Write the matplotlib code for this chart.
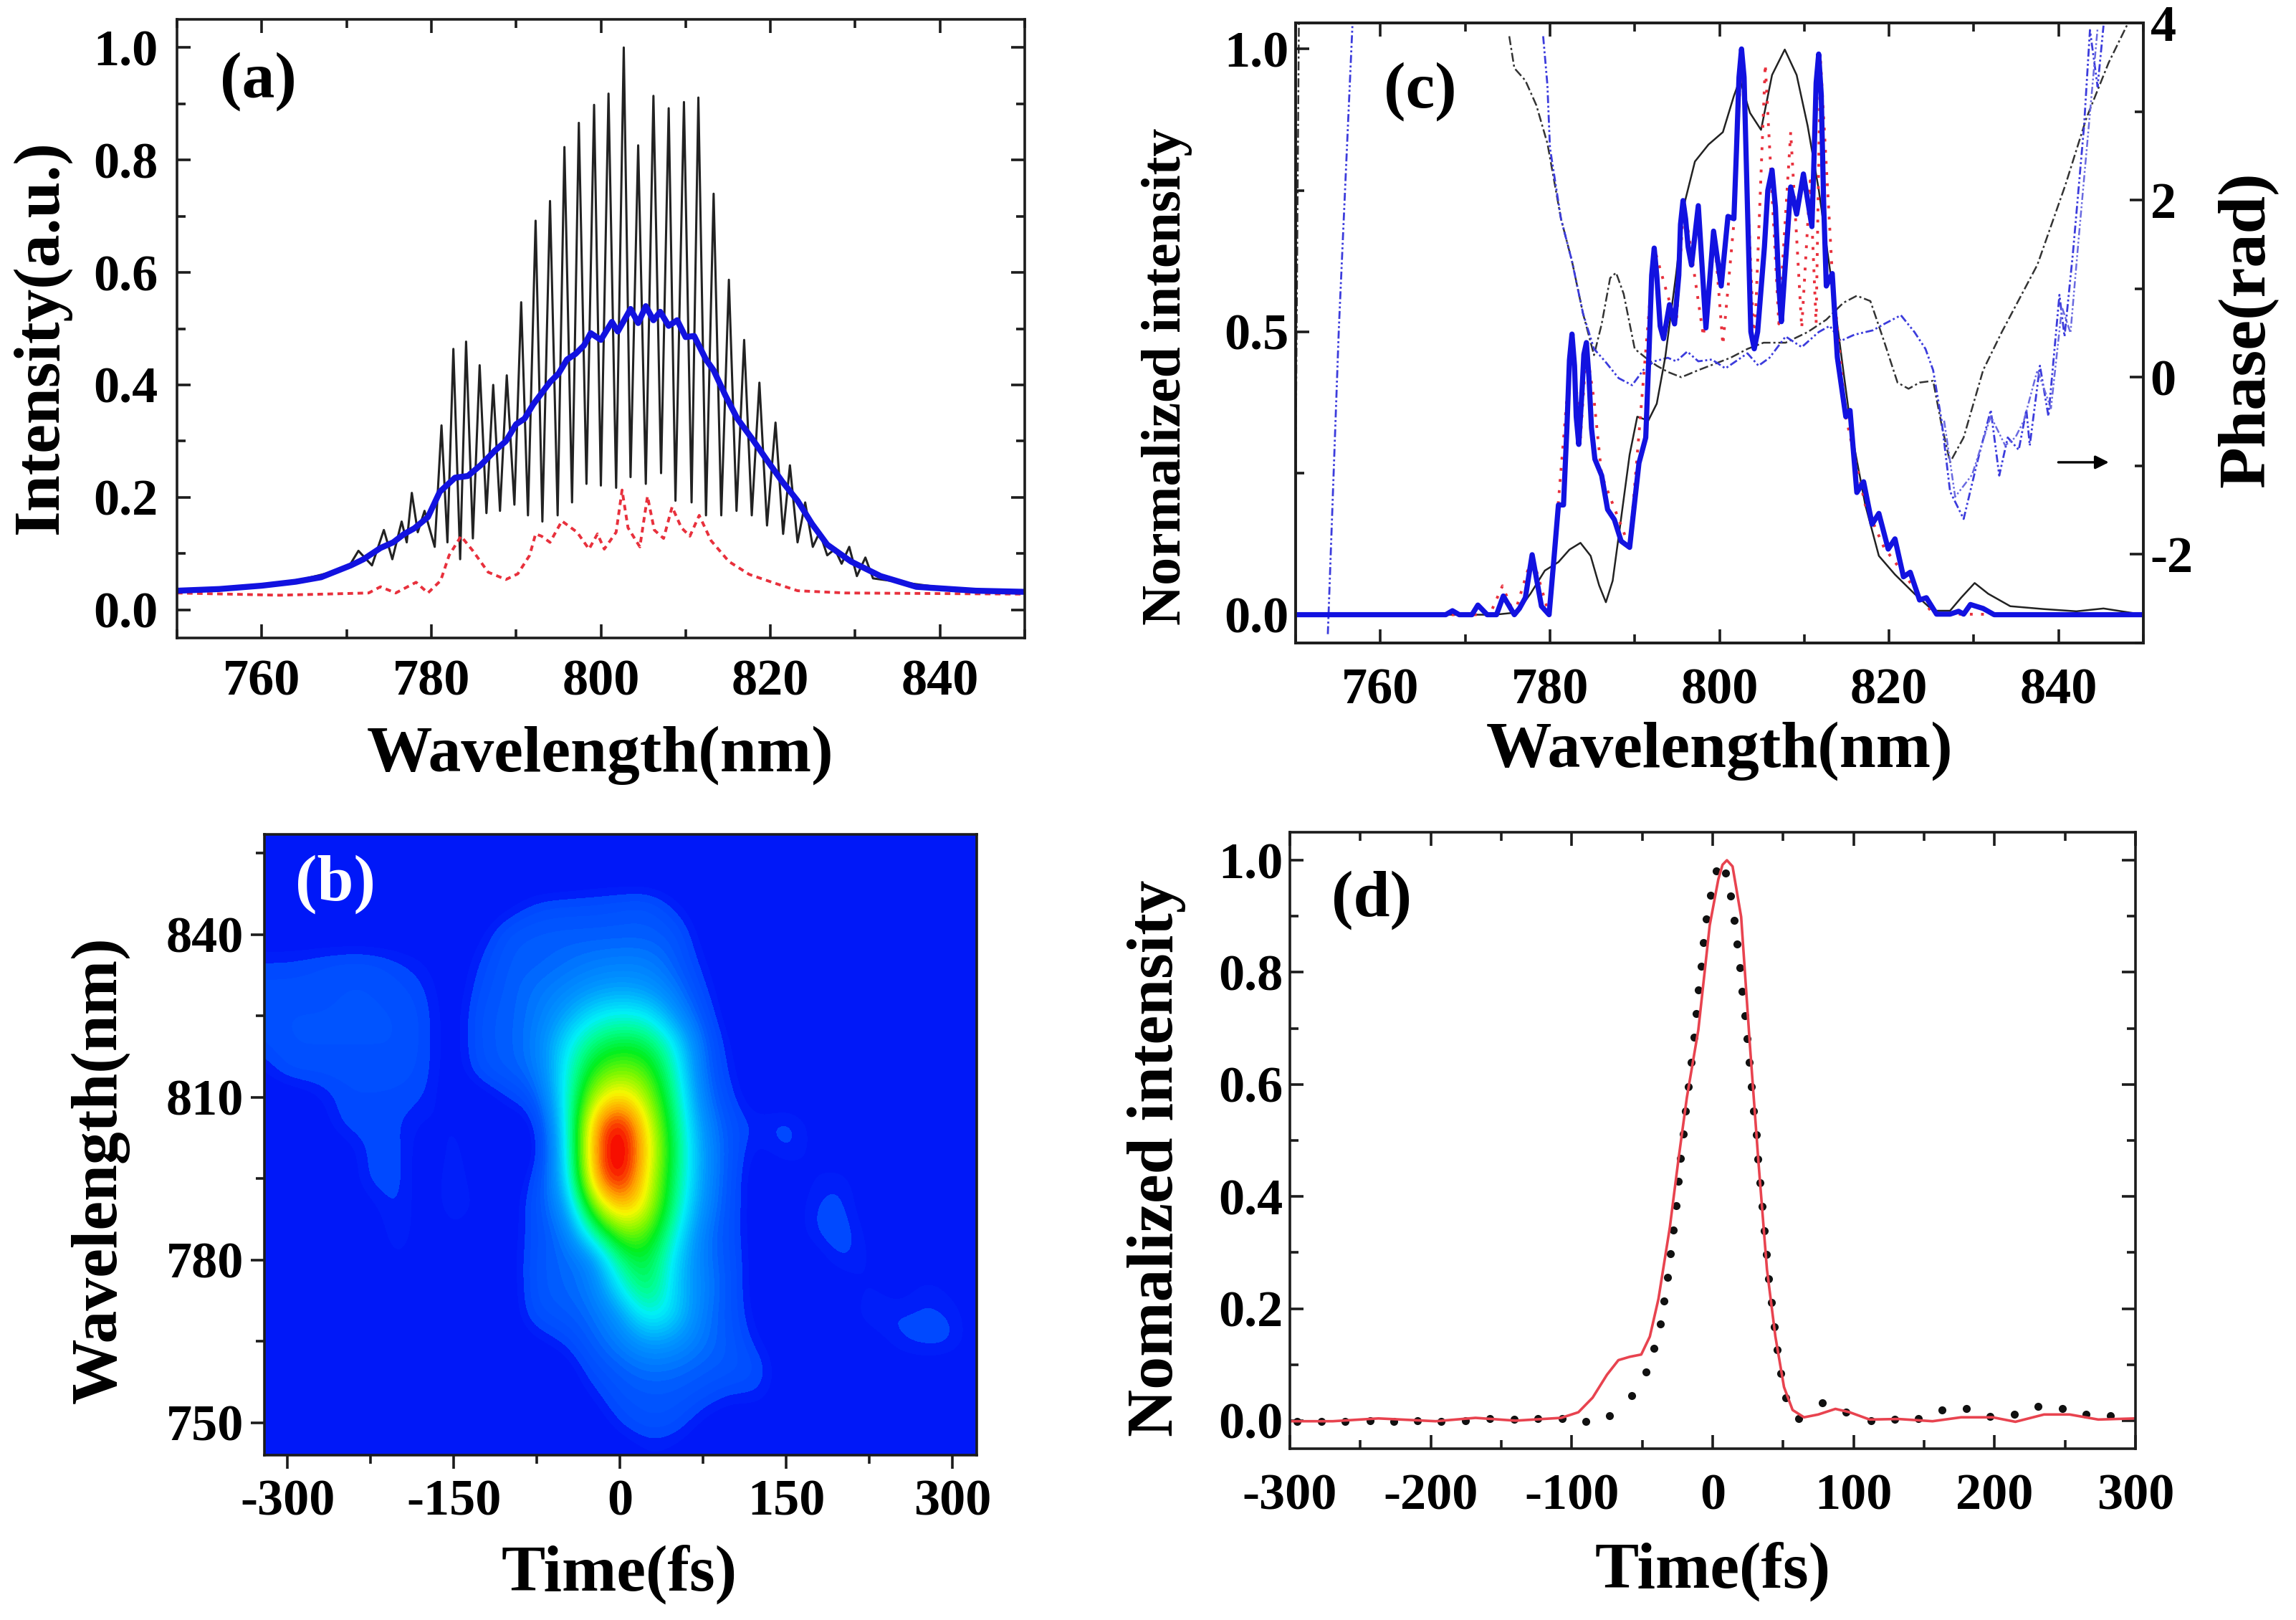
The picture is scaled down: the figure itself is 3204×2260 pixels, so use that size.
# -*- coding: utf-8 -*-
import matplotlib
matplotlib.use("Agg")
import matplotlib.pyplot as plt
from matplotlib.colors import LinearSegmentedColormap

plt.rcParams['font.family'] = ['Liberation Serif', 'DejaVu Serif']
plt.rcParams['font.weight'] = 'bold'
plt.rcParams['axes.labelweight'] = 'bold'
plt.rcParams['axes.unicode_minus'] = False

# panel (a)
a_black_x = [750, 760, 765, 768, 770.2, 771.4, 773.0, 774.4, 775.4, 776.5, 777.1, 777.7, 778.4, 779.2, 780.4, 781.2,
             781.9, 782.6, 783.4, 784.1, 784.9, 785.7, 786.5, 787.3, 788.1, 788.9, 789.8, 790.6, 791.4, 792.3, 793.1,
             794.0, 794.9, 795.7, 796.6, 797.4, 798.3, 799.2, 800.0, 800.9, 801.8, 802.7, 803.5, 804.4, 805.3, 806.2,
             807.1, 808.0, 808.8, 809.8, 810.7, 811.5, 812.4, 813.3, 814.2, 815.1, 816.0, 816.9, 817.8, 818.7, 819.6,
             820.6, 821.5, 822.3, 823.2, 824.1, 825.0, 825.8, 826.7, 827.6, 828.4, 829.3, 830.2, 831.2, 832.1, 835,
             840, 845, 850]
a_black_y = [.033, .043, .055, .066, .075, .105, .079, .142, .09, .157, .12, .208, .138, .176, .112, .328,
             .12, .464, .09, .477, .127, .435, .172, .400, .176, .417, .187, .547, .168, .692, .157,
             .727, .168, .823, .191, .866, .224, .898, .221, .918, .217, 1.0, .236, .826, .224, .914,
             .243, .892, .194, .903, .191, .911, .168, .740, .168, .587, .176, .480, .168, .404, .150,
             .333, .135, .257, .120, .191, .112, .138, .097, .108, .082, .112, .060, .093, .056, .05,
             .04, .035, .033]
a_blue_x = [750, 755, 760, 764, 767, 770.5, 772, 774, 775.5, 776.8, 778, 779.6, 781, 782.8, 784.3, 785.8, 787.5, 788.8,
            790, 791, 792, 793, 794, 795, 796, 797, 798, 798.8, 800, 801.3, 802, 803.5, 804.4, 805.3, 806.2, 807, 808,
            809, 810, 811, 812.4, 813.3, 814.7, 816.1, 817.9, 819.6, 821.4, 823.2, 824.9, 826.7, 829.5, 833, 837.2,
            844.2, 850]
a_blue_y = [.034, .037, .043, .05, .058, .079, .09, .11, .12, .135, .145, .165, .21, .235, .238, .257, .283, .30,
            .33, .34, .365, .385, .405, .42, .445, .455, .47, .492, .48, .512, .495, .535, .51, .54, .515, .53, .505,
            .515, .485, .487, .445, .426, .381, .34, .303, .266, .228, .194, .153, .116, .086, .06, .041,
            .034, .032]
a_red_x = [750, 762.1, 772.6, 774.0, 775.8, 778.2, 779.6, 781.1, 782.1, 783.5, 784.9, 786.7, 788.8, 790.2, 791.6, 792.3,
           793.0, 794.0, 795.4, 797.2, 798.6, 799.6, 800.4, 801.8, 802.5, 803.2, 804.6, 805.5, 806.3, 807.4, 808.4,
           809.5, 810.5, 811.6, 813.0, 815.1, 817.5, 820.4, 823.2, 828.8, 850]
a_red_y = [.030, .026, .030, .041, .030, .049, .030, .052, .097, .131, .105, .067, .054, .064, .097, .135,
           .131, .120, .158, .138, .108, .135, .108, .138, .213, .146, .112, .202, .142, .127, .183,
           .146, .131, .168, .123, .086, .063, .048, .034, .030, .028]

# panel (c)
c_blue_x = [750, 767.7, 768.5, 769.3, 770.8, 771.5, 772.6, 773.7, 774.5, 775.8, 776.4, 777.1, 777.9, 779.0, 779.9, 780.5,
            781.0, 781.6, 782.0, 782.3, 782.6, 782.9, 783.1, 783.4, 783.8, 784.0, 784.3, 784.6, 784.9, 785.3, 786.1,
            786.8, 787.6, 788.4, 789.4, 790.5, 791.3, 791.7, 792.0, 792.3, 792.6, 793.0, 793.4,
            794.1, 794.7, 795.2, 795.4, 795.7, 796.0, 796.3, 796.7, 797.5, 798.4, 799.3, 800.2, 801.0, 801.7, 802.0,
            802.3, 802.6, 802.9, 803.3, 803.7, 804.1, 804.5, 805.3, 805.7, 806.2, 806.6, 807.0, 807.3, 808.4,
            809.1, 809.9, 810.9, 811.1, 811.4, 811.7, 812.0, 812.3, 812.6, 813.3, 813.9, 814.9, 815.4, 816.2, 817.0,
            818.0, 818.8, 819.9, 820.7,
            821.7, 822.5, 823.6, 824.4, 825.6, 827.2, 828.2, 828.8, 829.6, 831.1, 832.4, 850]
c_blue_y = [0, 0, .007, 0, 0, .017, 0, 0, .033, 0, .011, .030, .106, .015, 0, .104,
            .194, .194, .33, .45, .496, .44, .35, .301, .40, .46, .481, .42, .33, .275, .246,
            .186, .168, .130, .119, .268, .313, .47, .60, .648, .60, .51, .488,
            .548, .514, .60, .69, .732, .70, .65, .618, .723, .507, .678, .581, .704, .700, .82,
            .95, 1.0, .95, .72, .50, .470, .50, .65, .75, .786, .72, .58, .518, .756,
            .708, .779, .686, .78, .94, .991, .92, .72, .581, .603, .455, .350, .361, .216, .235,
            .160, .179, .116, .134,
            .067, .075, .026, .030, .001, .001, .006, .001, .018, .011, 0, 0]
c_black_x = [750, 773.5, 776.1, 777.7, 779.4, 781.0, 782.3, 783.6, 784.8, 785.8, 786.6, 787.4, 788.4, 789.4, 790.3, 791.6,
             792.6, 793.6, 794.9, 795.8, 797.1, 798.7, 800.4, 801.7, 802.4, 803.6, 804.9, 806.2, 807.7, 809.1, 810.4,
             811.7, 813.3, 814.6, 815.6, 817.2, 818.8, 820.7, 823.0, 825.2, 827.2, 828.5, 830.1, 831.7, 834.3, 838.2,
             842.1, 845.3, 850]
c_black_y = [0, 0, .004, .037, .078, .093, .115, .127, .104, .052, .022, .060, .171, .283, .350, .343,
             .373, .455, .604, .723, .801, .831, .853, .917, .946, .887, .857, .954, .999, .954, .864,
             .752, .581, .432, .320, .194, .104, .071, .037, .007, .007, .030, .056, .037, .015, .010,
             .006, .011, 0]
c_red_x = [750, 772.9, 774.4, 775.8, 777.9, 779.9, 782.6, 783.6, 784.3, 785.2, 786.1, 789.4, 792.3, 793.7, 794.9, 795.8,
           798.1, 799.4, 800.4, 801.7, 802.6, 804.1, 805.4, 807.0, 808.4, 809.7, 810.7, 811.4, 811.9, 813.3, 814.9,
           817.2, 819.4, 822.0, 825.2, 850]
c_red_y = [0, 0, .051, 0, .104, 0, .492, .313, .469, .380, .246, .119, .648, .574, .514, .730,
           .492, .671, .477, .693, 1.0, .470, .973, .514, .853, .507, .767, .514, .984, .603, .350,
           .194, .119, .067, .001, 0]
phase_black_x = [775.2, 775.8, 777.1, 778.4, 779.7, 781.3, 782.6, 783.9, 785.2, 786.1, 787.1, 787.8, 788.7, 790.0, 791.3,
                 792.6, 793.9, 795.5, 797.5, 799.4, 801.3, 803.3, 805.2, 807.8, 810.4, 812.6, 814.6, 816.2, 817.8, 819.4,
                 821.0, 822.3, 823.6, 825.2, 826.2, 827.2, 828.8, 831.1, 833.3, 837.5, 840.8, 843.3, 845.9, 848.2]
phase_black_y = [3.85, 3.49, 3.35, 3.07, 2.64, 1.79, 1.31, .72, .25, .60, 1.12, 1.18, .94, .32, .22,
                 .13, .06, 0, .08, .15, .22, .32, .39, .39, .51, .65, .84, .92, .86, .41,
                 -.06, -.13, -.06, -.04, -.54, -.96, -.68, .08, .51, 1.27, 2.17, 2.93, 3.55, 4.0]
phase_black_left_x = [750.0, 750.4]
phase_black_left_y = [-1.1, 4.2]
phase_blue_x = [779.2, 779.7, 780, 781.3, 782.6, 783.9, 785.2, 786.5, 788.1, 789.7, 791.0, 792.3, 793.9, 794.9, 796.2,
                797.5, 799.1, 800.7, 803.3, 804.6, 805.9, 807.8, 809.7, 811.7, 813.0, 814.3, 815.9, 818.1, 819.4, 821.4,
                823.0, 824.3, 825.2, 826.2, 827.2, 828.8, 830.4, 832.0, 833.0, 834.0, 835.3, 836.2, 836.6, 837.8, 838.8,
                840.1, 840.7, 841.7, 843.0, 843.7, 844.6, 845.3]
phase_blue_y = [3.85, 3.30, 2.59, 1.79, 1.31, .72, .32, .18, -.01, -.09, .08, .18, .22, .18, .29,
                .18, .20, .10, .27, .13, .22, .46, .34, .51, .58, .41, .48, .53, .60, .70,
                .51, .32, .08, -.49, -1.29, -1.60, -.96, -.37, -1.11, -.68, -.82, -.37, -.77, .13, -.44,
                .93, .46, 1.41, 2.83, 3.92, 3.28, 3.97]
phase_blue2_x = [826.5, 827.8, 829.8, 832.0, 833.7, 834.9, 835.9, 837.5, 839.1, 840.4, 841.4, 842.4, 844.0, 844.6]
phase_blue2_y = [-.49, -1.35, -1.10, -.44, -.77, -.68, -.49, .08, -.35, .79, .50, 1.60, 3.30, 3.94]
phase_blue_left_x = [753.8, 755.1, 756.7]
phase_blue_left_y = [-2.9, .55, 3.97]

# panel (d)
d_red_x = [-300, -269.6, -237.2, -196.6, -168.3, -139.9, -107.5, -95.3, -85.2, -75.0, -66.9, -58.8, -50.7, -44.6, -38.5,
           -30.4, -24.4, -18.3, -10.2, -2.1, 4.0, 7.0, 10.1, 14.1, 20.2, 26.3, 32.4, 38.5, 44.5, 50.6, 56.7, 64.8, 74.9,
           87.1, 97.2, 111.4, 131.7, 156.0, 176.3, 198.6, 214.8, 235.1, 253.3, 273.6, 300]
d_red_y = [-.001, -.001, .004, -.001, .005, 0, .005, .015, .041, .082, .108, .114, .118, .150, .217,
           .345, .464, .577, .697, .884, .966, .992, 1.0, .989, .899, .674, .464, .270, .150, .060, .019, .006, .011,
           .021, .015, .002, .003, -.001, .006, .006, -.002, .011, .011, .002, .004]
d_dots_x = [-294.7, -277.7, -260.7, -243.3, -226.2, -209.6, -192.6, -175.2, -158.1, -141.1, -124.1, -106.6, -90.0, -73.0,
            -57.6, -47.5, -41.8, -37.3, -34.5, -32.1, -30.0, -28.0, -26.0, -24.4, -22.7, -21.1, -19.1, -17.5, -15.4,
            -13.4, -11.8, -10.2, -8.2, -6.5, -4.5, -1.7, 2.4, 9.3, 12.9, 15.0, 17.4, 19.4, 21.0, 22.7, 24.3, 25.9,
            27.5, 29.2, 30.8, 32.0, 33.6, 35.2, 36.4, 38.1, 39.7, 41.7, 43.7, 45.8, 48.2, 51.8, 60.8, 77.8, 94.8,
            112.2, 128.9, 145.9, 162.9, 179.9, 196.9, 214.0, 231.0, 248.0, 265.1, 282.1]
d_dots_y = [-.001, -.001, -.001, 0, -.001, 0, -.001, 0, .004, .002, .004, .004, -.001, .009,
            .045, .087, .129, .172, .213, .256, .298, .340, .383, .427, .468, .511, .553, .596, .640,
            .684, .726, .768, .811, .853, .895, .938, .981, .977, .936, .893, .850, .808, .766, .723, .681, .639,
            .596, .553, .510, .467, .425, .382, .339, .296, .253, .211, .168, .127, .084, .041, .004, .032, .015,
            0, .003, .004, .019, .022, .007, .011, .025, .022, .012, .009]

# panel (b): trace read on a coarse grid, time across, wavelength down
frog_time = [-325, -300, -275, -250, -225, -200, -175, -150, -125, -100, -75, -50, -25, 0, 25, 50, 75, 100, 125, 150,
             175, 200, 225, 250, 275, 300, 325]
frog_wl = [860, 855, 850, 845, 840, 835, 830, 825, 820, 815, 810, 805, 800, 795, 790, 785, 780, 775, 770, 765, 760, 755,
           750, 745]
frog = [
    [0, 0, 0, 0, 0, 0, 0, 0, 0, 0, 0, 0, 0, 0, 0, 0, 0, 0, 0, 0, 0, 0, 0, 0, 0, 0, 0],
    [0, 0, 0, 0, 0, 0, 0, 0, 0, 0, 0, 0, 0, 0, 0, 0, 0, 0, 0, 0, 0, 0, 0, 0, 0, 0, 0],
    [0, 0, 0, 0, 0, 0, 0, 0, 0, 0, 0, 0, .01, .01, .01, 0, 0, 0, 0, 0, 0, 0, 0, 0, 0, 0, 0],
    [0, 0, 0, 0, 0, 0, 0, 0, 0, .02, .06, .07, .07, .08, .09, .04, 0, 0, 0, 0, 0, 0, 0, 0, 0, 0, 0],
    [0, 0, 0, 0, 0, 0, 0, 0, .02, .09, .10, .10, .10, .10, .10, .09, .01, 0, 0, 0, 0, 0, 0, 0, 0, 0, 0],
    [.05, .05, .06, .07, .07, .05, .03, 0, .05, .10, .10, .12, .14, .15, .15, .10, .03, 0, 0, 0, 0, 0, 0, 0, 0, 0, 0],
    [.07, .07, .07, .08, .08, .07, .05, 0, .07, .10, .13, .16, .20, .22, .20, .14, .05, 0, 0, 0, 0, 0, 0, 0, 0, 0, 0],
    [.07, .08, .08, .08, .08, .08, .06, 0, .09, .10, .14, .22, .32, .36, .34, .20, .08, 0, 0, 0, 0, 0, 0, 0, 0, 0, 0],
    [.06, .08, .08, .08, .08, .08, .06, 0, .09, .10, .15, .30, .45, .50, .48, .33, .11, .02, 0, 0, 0, 0, 0, 0, 0, 0, 0],
    [.02, .07, .07, .07, .07, .07, .06, 0, .08, .10, .13, .33, .55, .62, .58, .38, .12, .03, 0, 0, 0, 0, 0, 0, 0, 0, 0],
    [0, 0, .02, .06, .06, .06, .05, 0, 0, .05, .08, .33, .66, .78, .65, .42, .14, .05, 0, 0, 0, 0, 0, 0, 0, 0, 0],
    [0, 0, 0, .06, .06, .05, .02, .04, 0, 0, .02, .30, .80, .97, .72, .45, .18, .07, .04, .07, .02, 0, 0, 0, 0, 0, 0],
    [0, 0, 0, 0, .06, .06, 0, .05, 0, 0, 0, .28, .82, 1.0, .75, .47, .20, .08, .01, .06, .02, 0, 0, 0, 0, 0, 0],
    [0, 0, 0, 0, .06, .06, 0, .06, 0, 0, .05, .25, .80, .97, .72, .45, .20, .07, 0, 0, .03, .05, 0, 0, 0, 0, 0],
    [0, 0, 0, 0, .02, .06, 0, .06, .02, 0, .08, .18, .62, .82, .70, .42, .18, .07, 0, 0, .05, .06, 0, 0, 0, 0, 0],
    [0, 0, 0, 0, 0, .06, 0, .03, 0, 0, .08, .12, .40, .62, .60, .36, .14, .07, 0, 0, .05, .07, .02, 0, 0, 0, 0],
    [0, 0, 0, 0, 0, .04, 0, 0, .05, 0, .09, .11, .16, .45, .52, .30, .14, .08, 0, 0, 0, .06, .03, 0, 0, 0, 0],
    [0, 0, 0, 0, 0, 0, 0, 0, 0, 0, .09, .11, .14, .33, .50, .28, .16, .08, 0, 0, 0, 0, .04, 0, .05, .02, 0],
    [0, 0, 0, 0, 0, 0, 0, 0, 0, 0, .08, .09, .12, .20, .38, .30, .14, .08, .01, 0, 0, 0, .06, .05, .05, .05, 0],
    [0, 0, 0, 0, 0, 0, 0, 0, 0, 0, .02, .05, .10, .15, .22, .20, .13, .09, .03, 0, 0, 0, 0, .05, .06, .06, 0],
    [0, 0, 0, 0, 0, 0, 0, 0, 0, 0, 0, 0, .07, .10, .13, .12, .10, .09, .07, 0, 0, 0, 0, 0, .01, 0, 0],
    [0, 0, 0, 0, 0, 0, 0, 0, 0, 0, 0, 0, .03, .08, .09, .09, .07, .04, .05, 0, 0, 0, 0, .02, 0, 0, 0],
    [0, 0, 0, 0, 0, 0, 0, 0, 0, 0, 0, 0, 0, .05, .08, .07, .02, 0, 0, 0, 0, 0, 0, 0, 0, 0, 0],
    [0, 0, 0, 0, 0, 0, 0, 0, 0, 0, 0, 0, 0, 0, .03, .02, 0, 0, 0, 0, 0, 0, 0, 0, 0, 0, 0],
]

wl_ticks = [760, 780, 800, 820, 840]
wl_minor = [770, 790, 810, 830, 750, 850]
a_yticks = [0.0, 0.2, 0.4, 0.6, 0.8, 1.0]
a_yminor = [0.1, 0.3, 0.5, 0.7, 0.9]
c_yticks = [0.0, 0.5, 1.0]
c_yminor = [0.25, 0.75]
phase_ticks = [-2, 0, 2, 4]
phase_minor = [-3, -1, 1, 3]
b_xticks = [-300, -150, 0, 150, 300]
b_xminor = [-225, -75, 75, 225]
b_yticks = [750, 780, 810, 840]
b_yminor = [765, 795, 825, 855]
d_xticks = [-300, -200, -100, 0, 100, 200, 300]
d_xminor = [-250, -150, -50, 50, 150, 250]

W = 3204
H = 2260
TICK_SIZE = 26
LABEL_SIZE = 33
BLUE = '#1212e0'
DARK = '#1c1c1c'


def make_axes(left, top, right, bottom):
    # 像素坐标 -> figure 坐标
    return fig.add_axes([left / W, 1 - bottom / H, (right - left) / W, (bottom - top) / H])


def style_axes(ax, mirror=True, direction='in', xpad=3.5, ypad=3.5):
    for s in ax.spines.values():
        s.set_linewidth(1.3)
        s.set_color(DARK)
    ax.tick_params(which='major', direction=direction, length=7, width=1.3, labelsize=TICK_SIZE,
                   top=mirror, right=mirror, color=DARK)
    ax.tick_params(which='minor', direction=direction, length=4.2, width=1.3,
                   top=mirror, right=mirror, color=DARK)
    ax.tick_params(axis='x', which='major', pad=xpad)
    ax.tick_params(axis='y', which='major', pad=ypad)


def put_xlabel(ax, text, x, y):
    ax.set_xlabel(text, fontsize=LABEL_SIZE)
    ax.xaxis.set_label_coords(x / W, 1 - y / H, transform=fig.transFigure)
    ax.xaxis.label.set_verticalalignment('center')


def put_ylabel(ax, text, x, y, size=LABEL_SIZE):
    ax.set_ylabel(text, fontsize=size)
    ax.yaxis.set_label_coords(x / W, 1 - y / H, transform=fig.transFigure)
    ax.yaxis.label.set_verticalalignment('center')


fig = plt.figure(figsize=(W / 200, H / 200), dpi=200)

# (a)
ax_a = make_axes(247, 27, 1430, 890)
style_axes(ax_a, xpad=10.5, ypad=9.5)
ax_a.plot(a_black_x, a_black_y, color='#222222', lw=1.1)
ax_a.plot(a_red_x, a_red_y, color='#e8303c', lw=1.4, dashes=(2.0, 1.6))
ax_a.plot(a_blue_x, a_blue_y, color=BLUE, lw=3.0)
ax_a.set_xlim(750, 850)
ax_a.set_ylim(-0.05, 1.05)
ax_a.set_xticks(wl_ticks)
ax_a.set_xticks(wl_minor, minor=True)
ax_a.set_yticks(a_yticks)
ax_a.set_yticks(a_yminor, minor=True)
ax_a.set_yticklabels(['%.1f' % v for v in a_yticks])
put_xlabel(ax_a, 'Wavelength(nm)', 838, 1054)
put_ylabel(ax_a, 'Intensity(a.u.)', 57, 470)
ax_a.text(0.0955, 0.9, '(a)', transform=ax_a.transAxes, fontsize=LABEL_SIZE, va='center', ha='center')

# (c)
ax_c = make_axes(1808, 32, 2991, 897)
style_axes(ax_c, xpad=12.5)
ax_c.tick_params(which='both', right=False)
ax_r = ax_c.twinx()
style_axes(ax_r, mirror=False)
ax_r.tick_params(which='both', right=True, left=False, top=False, bottom=False)
ax_r.plot(phase_black_x, phase_black_y, color='#333333', lw=0.9, dashes=(5, 1.6, 1.2, 1.6))
ax_r.plot(phase_black_left_x, phase_black_left_y, color='#333333', lw=0.9, dashes=(5, 1.6, 1.2, 1.6))
ax_r.plot(phase_blue_x, phase_blue_y, color='#3c3cdc', lw=1.0, dashes=(4, 1.3, 1, 1.3, 1, 1.3))
ax_r.plot(phase_blue2_x, phase_blue2_y, color='#6a6ae0', lw=0.9, dashes=(4, 1.3, 1, 1.3, 1, 1.3))
ax_r.plot(phase_blue_left_x, phase_blue_left_y, color='#3c3cdc', lw=1.0, dashes=(4, 1.3, 1, 1.3, 1, 1.3))
ax_r.set_ylim(-3, 4)
ax_r.set_yticks(phase_ticks)
ax_r.set_yticks(phase_minor, minor=True)
ax_r.annotate('', xy=(846.4, -0.96), xytext=(839.5, -0.96),
              arrowprops=dict(arrowstyle='-|>', color='black', lw=1.2, mutation_scale=14))
ax_c.set_zorder(ax_r.get_zorder() + 1)
ax_c.patch.set_visible(False)
ax_c.plot(c_black_x, c_black_y, color='#222222', lw=0.9)
ax_c.plot(c_red_x, c_red_y, color='#e8303c', lw=1.4, dashes=(1, 3))
ax_c.plot(c_blue_x, c_blue_y, color=BLUE, lw=2.6)
ax_c.set_xlim(750, 850)
ax_c.set_ylim(-0.05, 1.046)
ax_c.set_xticks(wl_ticks)
ax_c.set_xticks(wl_minor, minor=True)
ax_c.set_yticks(c_yticks)
ax_c.set_yticks(c_yminor, minor=True)
ax_c.set_yticklabels(['%.1f' % v for v in c_yticks])
put_xlabel(ax_c, 'Wavelength(nm)', 2400, 1048)
put_ylabel(ax_c, 'Normalized intensity', 1628, 525, size=28)
put_ylabel(ax_r, 'Phase(rad)', 3136, 460, size=34)
ax_c.text(0.147, 0.89, '(c)', transform=ax_c.transAxes, fontsize=LABEL_SIZE, va='center', ha='center')

# (b)
ax_b = make_axes(369, 1164, 1363, 2030)
style_axes(ax_b, mirror=False, direction='out', xpad=5)
frog_cmap = LinearSegmentedColormap.from_list('frog', [
    (0.0, '#0018f8'), (0.03, '#0018f8'), (0.042, '#0048ff'), (0.09, '#0058ff'), (0.13, '#0078ff'), (0.2, '#0098ff'),
    (0.33, '#00f0f8'), (0.42, '#00ff90'), (0.52, '#00f020'), (0.62, '#80f800'), (0.72, '#f8f800'), (0.82, '#ffa000'),
    (0.92, '#f81000'), (1.0, '#f00000')], N=64)
dt = (frog_time[1] - frog_time[0]) / 2
dw = (frog_wl[0] - frog_wl[1]) / 2
ax_b.imshow(frog, cmap=frog_cmap, vmin=0, vmax=1, aspect='auto', interpolation='bicubic',
            extent=[frog_time[0] - dt, frog_time[-1] + dt, frog_wl[-1] - dw, frog_wl[0] + dw])
ax_b.set_xlim(-321, 322)
ax_b.set_ylim(744, 858.5)
ax_b.set_xticks(b_xticks)
ax_b.set_xticks(b_xminor, minor=True)
ax_b.set_yticks(b_yticks)
ax_b.set_yticks(b_yminor, minor=True)
put_xlabel(ax_b, 'Time(fs)', 864, 2196)
put_ylabel(ax_b, 'Wavelength(nm)', 139, 1632)
ax_b.text(0.1, 0.92, '(b)', transform=ax_b.transAxes, fontsize=LABEL_SIZE, va='center', ha='center', color='white')

# (d)
ax_d = make_axes(1800, 1161, 2980, 2021)
style_axes(ax_d, xpad=12.5)
ax_d.plot(d_dots_x, d_dots_y, ls='none', marker='o', ms=3.0, color='#111111')
ax_d.plot(d_red_x, d_red_y, color='#e8434f', lw=1.3)
ax_d.set_xlim(-300, 300)
ax_d.set_ylim(-0.05, 1.05)
ax_d.set_xticks(d_xticks)
ax_d.set_xticks(d_xminor, minor=True)
ax_d.set_yticks(a_yticks)
ax_d.set_yticks(a_yminor, minor=True)
ax_d.set_yticklabels(['%.1f' % v for v in a_yticks])
put_xlabel(ax_d, 'Time(fs)', 2390, 2192)
put_ylabel(ax_d, 'Nomalized intensity', 1614, 1616)
ax_d.text(0.0966, 0.89, '(d)', transform=ax_d.transAxes, fontsize=LABEL_SIZE, va='center', ha='center')

fig.savefig('out.png', dpi=200)
